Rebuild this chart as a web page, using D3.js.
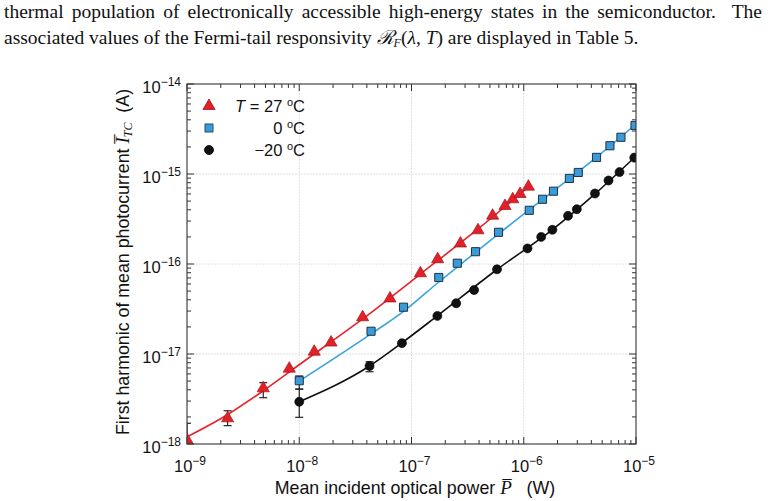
<!DOCTYPE html>
<html><head><meta charset="utf-8">
<script src="https://cdn.jsdelivr.net/npm/d3@7"></script>
<style>body{margin:0;background:#fff}</style>
</head><body>
<svg id="c" width="768" height="501" xmlns="http://www.w3.org/2000/svg"></svg>
<script>
// ---- data ----
const xTicks = [1e-9, 1e-8, 1e-7, 1e-6, 1e-5];
const xTickExp = ["−9", "−8", "−7", "−6", "−5"];
const yTicks = [1e-18, 1e-17, 1e-16, 1e-15, 1e-14];
const yTickExp = ["−18", "−17", "−16", "−15", "−14"];
const seriesTemps = ["27", "0", "−20"];

const redP = [1.0e-9, 2.3e-9, 4.78e-9, 8.15e-9, 1.36e-8, 1.92e-8, 3.67e-8, 6.43e-8, 1.20e-7, 1.71e-7, 2.73e-7, 3.91e-7, 5.28e-7, 6.81e-7, 7.98e-7, 9.27e-7, 1.10e-6];
const redI = [1.11e-18, 1.93e-18, 4.16e-18, 6.87e-18, 1.06e-17, 1.34e-17, 2.56e-17, 4.14e-17, 7.88e-17, 1.13e-16, 1.69e-16, 2.37e-16, 3.44e-16, 4.41e-16, 5.24e-16, 6.0e-16, 7.23e-16];
const redLo = [7e-19, 1.60e-18, 3.27e-18];
const redHi = [1.70e-18, 2.34e-18, 4.80e-18];

const blueP = [1.0e-8, 4.36e-8, 8.49e-8, 1.75e-7, 2.56e-7, 3.72e-7, 5.96e-7, 1.12e-6, 1.47e-6, 1.84e-6, 2.55e-6, 3.06e-6, 4.45e-6, 5.86e-6, 7.34e-6, 9.8e-6];
const blueI = [5.05e-18, 1.79e-17, 3.31e-17, 7.08e-17, 1.02e-16, 1.37e-16, 2.25e-16, 3.95e-16, 5.24e-16, 6.44e-16, 8.93e-16, 1.04e-15, 1.53e-15, 2.06e-15, 2.56e-15, 3.46e-15];
const blueLo = [4.08e-18];
const blueHi = [5.70e-18];

const blackP = [1.0e-8, 4.23e-8, 8.22e-8, 1.70e-7, 2.50e-7, 3.61e-7, 5.78e-7, 1.08e-6, 1.43e-6, 1.80e-6, 2.48e-6, 2.97e-6, 4.31e-6, 5.69e-6, 7.13e-6, 9.65e-6];
const blackI = [2.95e-18, 7.36e-18, 1.32e-17, 2.65e-17, 3.66e-17, 5.14e-17, 8.73e-17, 1.49e-16, 2.0e-16, 2.40e-16, 3.43e-16, 4.06e-16, 6.07e-16, 8.47e-16, 1.05e-15, 1.52e-15];
const blackLo = [1.98e-18, 6.35e-18];
const blackHi = [4.06e-18, 8.2e-18];

// fitted curves
const redFitP = [1.0e-9, 2.27e-9, 4.75e-9, 1.02e-8, 3.67e-8, 1.2e-7, 3.91e-7, 1.1e-6];
const redFitI = [1.20e-18, 2.10e-18, 3.88e-18, 7.74e-18, 2.45e-17, 7.74e-17, 2.45e-16, 7.18e-16];
const blueFitP = [1.0e-8, 4.36e-8, 8.56e-8, 1.75e-7, 2.56e-7, 5.96e-7, 1.84e-6, 4.38e-6, 1.0e-5];
const blueFitI = [5.0e-18, 1.67e-17, 3.0e-17, 6.31e-17, 9.26e-17, 2.16e-16, 6.47e-16, 1.51e-15, 3.59e-15];
const blackFitP = [1.0e-8, 4.23e-8, 8.22e-8, 1.69e-7, 5.78e-7, 1.79e-6, 4.31e-6, 1.0e-5];
const blackFitI = [2.95e-18, 7.36e-18, 1.33e-17, 2.64e-17, 8.69e-17, 2.39e-16, 6.0e-16, 1.585e-15];

// ---- drawing ----
const svg = d3.select("#c");
const L = 187, R = 636, T = 84, B = 444;
const x = d3.scaleLog().domain([1e-9, 1e-5]).range([L, R]);
const y = d3.scaleLog().domain([1e-18, 1e-14]).range([B, T]);

const SANS = "'Liberation Sans', Arial, Helvetica, sans-serif";
const SERIF = "'Liberation Serif', 'Times New Roman', serif";

// paragraph text (line 1 justified by word spacing)
const FS = 19.5;
const line1 = "thermal population of electronically accessible high-energy states in the semiconductor.  The";
const p1 = svg.append("text").attr("x", 4).attr("y", 18).attr("font-family", SERIF).attr("font-size", FS).attr("fill", "#111")
  .style("white-space", "pre").text(line1);
const natural = p1.node().getComputedTextLength();
const nSpaces = (line1.match(/ /g) || []).length;
p1.attr("word-spacing", (758 - natural) / nSpaces);
const p2 = svg.append("text").attr("x", 4).attr("y", 44).attr("font-family", SERIF).attr("font-size", FS).attr("fill", "#111");
p2.append("tspan").text("associated values of the Fermi-tail responsivity ");
p2.append("tspan").attr("font-style", "italic").text("ℛ");
p2.append("tspan").attr("font-size", 12).attr("dy", 3).attr("font-style", "italic").text("F");
p2.append("tspan").attr("dy", -3).text("(");
p2.append("tspan").attr("font-style", "italic").text("λ");
p2.append("tspan").text(", ");
p2.append("tspan").attr("font-style", "italic").text("T");
p2.append("tspan").text(") are displayed in Table 5.");

// clip
svg.append("clipPath").attr("id", "clip").append("rect").attr("x", L).attr("y", T).attr("width", R - L).attr("height", B - T);

// grid
const grid = svg.append("g").attr("stroke", "#dcdcdc").attr("stroke-width", 0.9).attr("stroke-dasharray", "2,1");
xTicks.slice(1, -1).forEach(v => grid.append("line").attr("x1", x(v)).attr("x2", x(v)).attr("y1", T).attr("y2", B));
yTicks.slice(1, -1).forEach(v => grid.append("line").attr("y1", y(v)).attr("y2", y(v)).attr("x1", L).attr("x2", R));

// ticks (inward, all sides)
const tk = svg.append("g").attr("stroke", "#333").attr("stroke-width", 1);
function minorList(dom) {
  const out = [];
  for (let e = Math.round(Math.log10(dom[0])); e < Math.round(Math.log10(dom[1])); e++)
    for (let m = 2; m <= 9; m++) out.push(m * Math.pow(10, e));
  return out;
}
const xMin = minorList(x.domain()), yMin = minorList(y.domain());
xTicks.forEach(v => {
  tk.append("line").attr("x1", x(v)).attr("x2", x(v)).attr("y1", B).attr("y2", B - 7);
  tk.append("line").attr("x1", x(v)).attr("x2", x(v)).attr("y1", T).attr("y2", T + 7);
});
xMin.forEach(v => {
  tk.append("line").attr("x1", x(v)).attr("x2", x(v)).attr("y1", B).attr("y2", B - 4);
  tk.append("line").attr("x1", x(v)).attr("x2", x(v)).attr("y1", T).attr("y2", T + 4);
});
yTicks.forEach(v => {
  tk.append("line").attr("y1", y(v)).attr("y2", y(v)).attr("x1", L).attr("x2", L + 7);
  tk.append("line").attr("y1", y(v)).attr("y2", y(v)).attr("x1", R).attr("x2", R - 7);
});
yMin.forEach(v => {
  tk.append("line").attr("y1", y(v)).attr("y2", y(v)).attr("x1", L).attr("x2", L + 4);
  tk.append("line").attr("y1", y(v)).attr("y2", y(v)).attr("x1", R).attr("x2", R - 4);
});

// fit lines
const plot = svg.append("g").attr("clip-path", "url(#clip)");
const line = d3.line().x(d => x(d[0])).y(d => y(d[1])).curve(d3.curveMonotoneX);
const fits = [
  [redFitP, redFitI, "#e8232a"],
  [blueFitP, blueFitI, "#3ba3dc"],
  [blackFitP, blackFitI, "#111"]
];
fits.forEach(([P, I, c]) => {
  plot.append("path").attr("d", line(P.map((p, i) => [p, I[i]]))).attr("fill", "none").attr("stroke", c).attr("stroke-width", 1.6);
});

// error bars
const eb = plot.append("g").attr("stroke", "#222").attr("stroke-width", 1.2);
[[redP, redLo, redHi], [blueP, blueLo, blueHi], [blackP, blackLo, blackHi]].forEach(([P, lo, hi]) => {
  lo.forEach((l, i) => {
    const cx = x(P[i]);
    eb.append("line").attr("x1", cx).attr("x2", cx).attr("y1", y(l)).attr("y2", y(hi[i]));
    eb.append("line").attr("x1", cx - 4).attr("x2", cx + 4).attr("y1", y(l)).attr("y2", y(l));
    eb.append("line").attr("x1", cx - 4).attr("x2", cx + 4).attr("y1", y(hi[i])).attr("y2", y(hi[i]));
  });
});

// markers
const tri = d3.symbol().type(d3.symbolTriangle).size(64)();
const sq = d3.symbol().type(d3.symbolSquare).size(66)();
const circ = d3.symbol().type(d3.symbolCircle).size(64)();
blackP.forEach((p, i) => plot.append("path").attr("d", circ).attr("transform", `translate(${x(p)},${y(blackI[i])})`).attr("fill", "#111").attr("stroke", "#000").attr("stroke-width", 0.6));
blueP.forEach((p, i) => plot.append("path").attr("d", sq).attr("transform", `translate(${x(p)},${y(blueI[i])})`).attr("fill", "#3b9ad8").attr("stroke", "#1c3347").attr("stroke-width", 1));
redP.forEach((p, i) => plot.append("path").attr("d", tri).attr("transform", `translate(${x(p)},${y(redI[i])})`).attr("fill", "#e3202a").attr("stroke", "#9a1a1a").attr("stroke-width", 0.7));

// frame
svg.append("rect").attr("x", L).attr("y", T).attr("width", R - L).attr("height", B - T).attr("fill", "none").attr("stroke", "#333").attr("stroke-width", 1.1);

// tick labels
xTicks.forEach((v, i) => {
  const t = svg.append("text").attr("x", x(v) + 3).attr("y", 472).attr("text-anchor", "middle").attr("font-family", SANS).attr("font-size", 16.5).attr("fill", "#111");
  t.append("tspan").text("10");
  t.append("tspan").attr("dy", -7).attr("font-size", 12).text(xTickExp[i]);
});
yTicks.forEach((v, i) => {
  const t = svg.append("text").attr("x", 181).attr("y", y(v) + 9).attr("text-anchor", "end").attr("font-family", SANS).attr("font-size", 16.5).attr("fill", "#111");
  t.append("tspan").text("10");
  t.append("tspan").attr("dy", -7).attr("font-size", 12).text(yTickExp[i]);
});

// axis titles
const xt = svg.append("text").attr("x", 415).attr("y", 494).attr("text-anchor", "middle").attr("font-family", SANS).attr("font-size", 17.8).attr("fill", "#111").style("white-space", "pre");
xt.append("tspan").text("Mean incident optical power ");
xt.append("tspan").attr("font-family", SERIF).attr("font-style", "italic").attr("font-size", 19).text("P\u0305");
xt.append("tspan").text("   (W)");

const yt = svg.append("text").attr("transform", "translate(129,262) rotate(-90)").attr("text-anchor", "middle").attr("font-family", SANS).attr("font-size", 17.8).attr("fill", "#111").style("white-space", "pre");
yt.append("tspan").text("First harmonic of mean photocurrent ");
yt.append("tspan").attr("font-family", SERIF).attr("font-style", "italic").attr("font-size", 19).text("I\u0305");
yt.append("tspan").attr("font-family", SERIF).attr("font-style", "italic").attr("font-size", 12).attr("dy", 3).text("TC");
yt.append("tspan").attr("dy", -3).text("  (A)");

// legend
const legRows = [
  [tri, "#e3202a", "#9a1a1a", 106],
  [sq, "#3b9ad8", "#1c3347", 128],
  [circ, "#111", "#000", 150]
];
legRows.forEach(([sym, f, s, ly], i) => {
  svg.append("path").attr("d", sym).attr("transform", `translate(209,${ly})`).attr("fill", f).attr("stroke", s).attr("stroke-width", 0.8);
  const t = svg.append("text").attr("x", 305).attr("y", ly + 6).attr("text-anchor", "end").attr("font-family", SANS).attr("font-size", 16.5).attr("fill", "#111");
  if (i === 0) {
    t.append("tspan").attr("font-style", "italic").text("T");
    t.append("tspan").text(" = ");
  }
  t.append("tspan").text(seriesTemps[i] + " ");
  t.append("tspan").attr("dy", -6).attr("font-size", 11).text("o");
  t.append("tspan").attr("dy", 6).text("C");
});
</script>
</body></html>
